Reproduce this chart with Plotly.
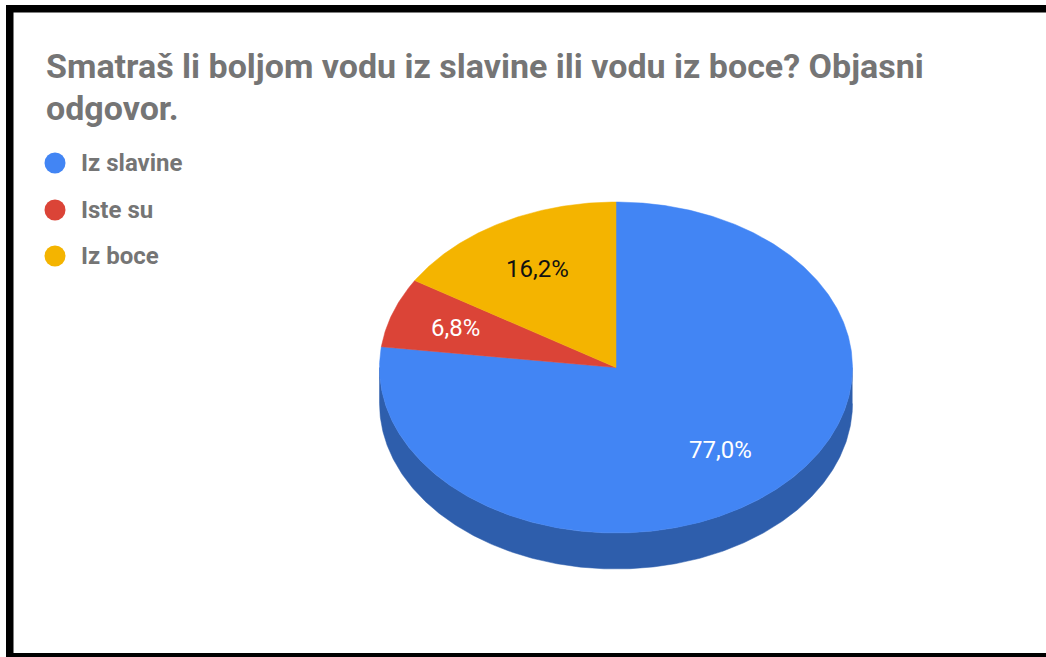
import math
import plotly.graph_objects as go

# Survey answers, in drawing order clockwise from twelve o'clock
categories = ["Iz slavine", "Iste su", "Iz boce"]
shares = [77.0, 6.8, 16.2]
share_labels = ["77,0%", "6,8%", "16,2%"]
top_colors = ["#4285F4", "#DB4437", "#F4B400"]
side_color = "#2E5EAC"
label_colors = ["#FFFFFF", "#FFFFFF", "#111111"]
title_lines = ["Smatraš li boljom vodu iz slavine ili vodu iz boce? Objasni", "odgovor."]

# Tilted-disc geometry, in page pixels
CX, CY = 616.0, 367.5
RX, RY = 236.5, 165.5
DEPTH = 36
# Distance of each share label from the centre, as a fraction of the radius
LABEL_RADII = [0.667, 0.72, 0.68]


def rim_point(angle, drop=0.0):
    return CX + RX * math.sin(angle), CY - RY * math.cos(angle) + drop


def arc(a0, a1, drop=0.0):
    steps = max(2, int(abs(a1 - a0) / math.radians(0.5)))
    pts = [rim_point(a0 + (a1 - a0) * i / steps, drop) for i in range(steps + 1)]
    return [p[0] for p in pts], [p[1] for p in pts]


fig = go.Figure()

# Side wall: lower half of the rim extruded downwards
x_up, y_up = arc(math.pi / 2, 3 * math.pi / 2)
x_dn, y_dn = arc(3 * math.pi / 2, math.pi / 2, DEPTH)
fig.add_trace(go.Scatter(
    x=x_up + x_dn, y=y_up + y_dn, mode="lines", fill="toself",
    fillcolor=side_color, line=dict(color=side_color, width=0.5), hoverinfo="skip",
))

# Top face slices
start = 0.0
total = sum(shares)
for name, share, color, label, label_color, radius in zip(
    categories, shares, top_colors, share_labels, label_colors, LABEL_RADII
):
    end = start + 2 * math.pi * share / total
    ax, ay = arc(start, end)
    fig.add_trace(go.Scatter(
        x=[CX] + ax + [CX], y=[CY] + ay + [CY], mode="lines", fill="toself",
        fillcolor=color, line=dict(color=color, width=0.5), name=name, hoverinfo="name",
    ))
    mid = (start + end) / 2
    fig.add_annotation(
        x=CX + radius * RX * math.sin(mid),
        y=CY - radius * RY * math.cos(mid),
        text=label, showarrow=False,
        font=dict(family="Roboto", size=24, color=label_color),
    )
    start = end

# Legend column
legend_y = [163, 210, 256]
fig.add_trace(go.Scatter(
    x=[55] * 3, y=legend_y, mode="markers",
    marker=dict(size=21, color=top_colors), hoverinfo="skip",
))
for name, y in zip(categories, legend_y):
    fig.add_annotation(
        x=79, y=y, text=f"<b>{name}</b>", showarrow=False, xanchor="left",
        font=dict(family="Roboto", size=24, color="#757575"),
    )

# Title, one annotation per line for tighter leading
for line, y in zip(title_lines, [66, 108]):
    fig.add_annotation(
        x=44, y=y, text=f"<b>{line}</b>", showarrow=False, xanchor="left",
        align="left", yanchor="middle",
        font=dict(family="Roboto", size=34, color="#757575"),
    )

# Black frame on the top, left and bottom edges
frame = dict(type="rect", fillcolor="#000000", line_width=0, layer="above")
fig.add_shape(x0=6, x1=1046, y0=5, y1=12.5, **frame)
fig.add_shape(x0=6, x1=13.5, y0=5, y1=657, **frame)
fig.add_shape(x0=6, x1=1046, y0=653, y1=657, **frame)

fig.update_layout(
    width=1046, height=657, margin=dict(l=0, r=0, t=0, b=0),
    paper_bgcolor="#FFFFFF", plot_bgcolor="#FFFFFF", showlegend=False,
    xaxis=dict(range=[0, 1046], visible=False, fixedrange=True),
    yaxis=dict(range=[657, 0], visible=False, fixedrange=True),
)
fig.write_html("out.html")
